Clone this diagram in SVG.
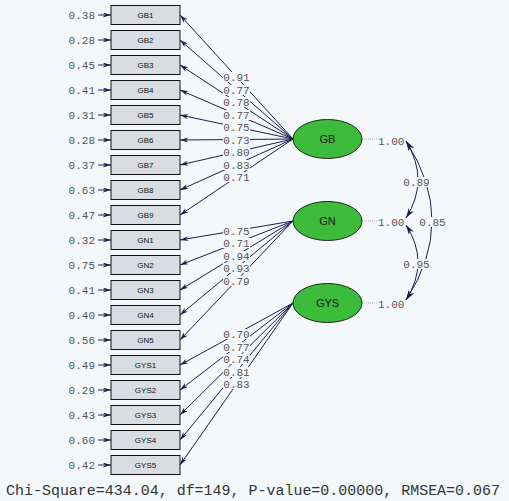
<svg xmlns="http://www.w3.org/2000/svg" width="509" height="501" viewBox="0 0 509 501">
<defs>
<style>
.bg{fill:#f4f8fb}
.box rect{fill:#d9dde2;stroke:#111;stroke-width:1}
.box text{font-family:"Liberation Sans",Arial,sans-serif;font-size:8px;fill:#111;text-anchor:middle}
.num{font-family:"Liberation Mono","Courier New",monospace;font-size:11px;fill:#555}
.lat ellipse{fill:#3dbb3a;stroke:#1a2a1a;stroke-width:1}
.lat text{font-family:"Liberation Sans",Arial,sans-serif;font-size:11px;fill:#1a1a1a;text-anchor:middle}
.ln{stroke:#1c1c50;stroke-width:1;fill:none}
.dot{stroke:#aaaaaa;stroke-width:1;stroke-dasharray:1 1}
.lb{fill:#f4f8fb}
.mid{text-anchor:middle}
</style>
<marker id="ah" viewBox="0 0 10 6" refX="10" refY="3" markerWidth="9" markerHeight="5" markerUnits="userSpaceOnUse" orient="auto">
<path d="M0,0 L10,3 L0,6 L3,3 z" fill="#1c1c50"/>
</marker>
<marker id="ah2" viewBox="0 0 10 6" refX="10" refY="3" markerWidth="10" markerHeight="6" markerUnits="userSpaceOnUse" orient="auto-start-reverse">
<path d="M0,0 L10,3 L0,6 L3,3 z" fill="#1c1c50"/>
</marker>
</defs>
<rect class="bg" x="0" y="0" width="509" height="501"/>

<g id="connectors">
<g id="errors" class="ln" marker-end="url(#ah)">
<line x1="98" y1="15" x2="111" y2="15"/><line x1="98" y1="40" x2="111" y2="40"/><line x1="98" y1="65" x2="111" y2="65"/><line x1="98" y1="90" x2="111" y2="90"/><line x1="98" y1="115" x2="111" y2="115"/><line x1="98" y1="140" x2="111" y2="140"/><line x1="98" y1="165" x2="111" y2="165"/><line x1="98" y1="190" x2="111" y2="190"/><line x1="98" y1="215" x2="111" y2="215"/><line x1="98" y1="240" x2="111" y2="240"/><line x1="98" y1="265" x2="111" y2="265"/><line x1="98" y1="290" x2="111" y2="290"/><line x1="98" y1="315" x2="111" y2="315"/><line x1="98" y1="340" x2="111" y2="340"/><line x1="98" y1="365" x2="111" y2="365"/><line x1="98" y1="390" x2="111" y2="390"/><line x1="98" y1="415" x2="111" y2="415"/><line x1="98" y1="440" x2="111" y2="440"/><line x1="98" y1="465" x2="111" y2="465"/>
</g>
<g id="loadings" class="ln" marker-end="url(#ah)">
<line x1="293" y1="139" x2="180" y2="15"/><line x1="293" y1="139" x2="180" y2="40"/><line x1="293" y1="139" x2="180" y2="65"/><line x1="293" y1="139" x2="180" y2="90"/><line x1="293" y1="139" x2="180" y2="115"/><line x1="293" y1="139" x2="180" y2="140"/><line x1="293" y1="139" x2="180" y2="165"/><line x1="293" y1="139" x2="180" y2="190"/><line x1="293" y1="139" x2="180" y2="215"/>
<line x1="293" y1="221" x2="180" y2="240"/><line x1="293" y1="221" x2="180" y2="265"/><line x1="293" y1="221" x2="180" y2="290"/><line x1="293" y1="221" x2="180" y2="315"/><line x1="293" y1="221" x2="180" y2="340"/>
<line x1="293" y1="303" x2="180" y2="365"/><line x1="293" y1="303" x2="180" y2="390"/><line x1="293" y1="303" x2="180" y2="415"/><line x1="293" y1="303" x2="180" y2="440"/><line x1="293" y1="303" x2="180" y2="465"/>
</g>
<g id="variances" class="dot">
<line x1="362" y1="139" x2="377" y2="139"/><line x1="362" y1="221" x2="377" y2="221"/><line x1="362" y1="303" x2="377" y2="303"/>
</g>
<g id="covariances" class="ln" marker-start="url(#ah2)" marker-end="url(#ah2)">
<path d="M406,141 Q430,180 406,218"/>
<path d="M406,225 Q430,262 406,300"/>
<path d="M406,141 Q458,221 406,300"/>
</g>
<g id="loading-labels" class="num">
<rect class="lb" x="223" y="72" width="27" height="10"/><text x="236.5" y="81" class="mid">0.91</text>
<rect class="lb" x="223" y="85" width="27" height="10"/><text x="236.5" y="93.5" class="mid">0.77</text>
<rect class="lb" x="223" y="97" width="27" height="10"/><text x="236.5" y="106" class="mid">0.78</text>
<rect class="lb" x="223" y="110" width="27" height="10"/><text x="236.5" y="118.5" class="mid">0.77</text>
<rect class="lb" x="223" y="122" width="27" height="10"/><text x="236.5" y="131" class="mid">0.75</text>
<rect class="lb" x="223" y="135" width="27" height="10"/><text x="236.5" y="143.5" class="mid">0.73</text>
<rect class="lb" x="223" y="147" width="27" height="10"/><text x="236.5" y="156" class="mid">0.80</text>
<rect class="lb" x="223" y="160" width="27" height="10"/><text x="236.5" y="168.5" class="mid">0.83</text>
<rect class="lb" x="223" y="172" width="27" height="10"/><text x="236.5" y="181" class="mid">0.71</text>
<rect class="lb" x="223" y="226" width="27" height="10"/><text x="236.5" y="235" class="mid">0.75</text>
<rect class="lb" x="223" y="238" width="27" height="10"/><text x="236.5" y="247" class="mid">0.71</text>
<rect class="lb" x="223" y="251" width="27" height="10"/><text x="236.5" y="259.5" class="mid">0.94</text>
<rect class="lb" x="223" y="263" width="27" height="10"/><text x="236.5" y="272" class="mid">0.93</text>
<rect class="lb" x="223" y="276" width="27" height="10"/><text x="236.5" y="284.5" class="mid">0.79</text>
<rect class="lb" x="223" y="329" width="27" height="10"/><text x="236.5" y="338" class="mid">0.70</text>
<rect class="lb" x="223" y="342" width="27" height="10"/><text x="236.5" y="350.5" class="mid">0.77</text>
<rect class="lb" x="223" y="354" width="27" height="10"/><text x="236.5" y="363" class="mid">0.74</text>
<rect class="lb" x="223" y="367" width="27" height="10"/><text x="236.5" y="375.5" class="mid">0.81</text>
<rect class="lb" x="223" y="379" width="27" height="10"/><text x="236.5" y="388" class="mid">0.83</text>
</g>
<g id="cov-labels" class="num">
<rect class="lb" x="403" y="177" width="27" height="10"/><text x="416.5" y="186" class="mid">0.89</text>
<rect class="lb" x="403" y="259" width="27" height="10"/><text x="416.5" y="268" class="mid">0.95</text>
<rect class="lb" x="419" y="217" width="27" height="10"/><text x="432.5" y="226" class="mid">0.85</text>
</g>
</g>

<g id="error-values" class="num" text-anchor="end">
<text x="95" y="19">0.38</text><text x="95" y="44">0.28</text><text x="95" y="69">0.45</text><text x="95" y="94">0.41</text><text x="95" y="119">0.31</text><text x="95" y="144">0.28</text><text x="95" y="169">0.37</text><text x="95" y="194">0.63</text><text x="95" y="219">0.47</text><text x="95" y="244">0.32</text><text x="95" y="269">0.75</text><text x="95" y="294">0.41</text><text x="95" y="319">0.40</text><text x="95" y="344">0.56</text><text x="95" y="369">0.49</text><text x="95" y="394">0.29</text><text x="95" y="419">0.43</text><text x="95" y="444">0.60</text><text x="95" y="469">0.42</text>
</g>

<g id="GB1" class="box"><rect x="111" y="5.5" width="69" height="19"/><text x="145.5" y="18">GB1</text></g>
<g id="GB2" class="box"><rect x="111" y="30.5" width="69" height="19"/><text x="145.5" y="43">GB2</text></g>
<g id="GB3" class="box"><rect x="111" y="55.5" width="69" height="19"/><text x="145.5" y="68">GB3</text></g>
<g id="GB4" class="box"><rect x="111" y="80.5" width="69" height="19"/><text x="145.5" y="93">GB4</text></g>
<g id="GB5" class="box"><rect x="111" y="105.5" width="69" height="19"/><text x="145.5" y="118">GB5</text></g>
<g id="GB6" class="box"><rect x="111" y="130.5" width="69" height="19"/><text x="145.5" y="143">GB6</text></g>
<g id="GB7" class="box"><rect x="111" y="155.5" width="69" height="19"/><text x="145.5" y="168">GB7</text></g>
<g id="GB8" class="box"><rect x="111" y="180.5" width="69" height="19"/><text x="145.5" y="193">GB8</text></g>
<g id="GB9" class="box"><rect x="111" y="205.5" width="69" height="19"/><text x="145.5" y="218">GB9</text></g>
<g id="GN1" class="box"><rect x="111" y="230.5" width="69" height="19"/><text x="145.5" y="243">GN1</text></g>
<g id="GN2" class="box"><rect x="111" y="255.5" width="69" height="19"/><text x="145.5" y="268">GN2</text></g>
<g id="GN3" class="box"><rect x="111" y="280.5" width="69" height="19"/><text x="145.5" y="293">GN3</text></g>
<g id="GN4" class="box"><rect x="111" y="305.5" width="69" height="19"/><text x="145.5" y="318">GN4</text></g>
<g id="GN5" class="box"><rect x="111" y="330.5" width="69" height="19"/><text x="145.5" y="343">GN5</text></g>
<g id="GYS1" class="box"><rect x="111" y="355.5" width="69" height="19"/><text x="145.5" y="368">GYS1</text></g>
<g id="GYS2" class="box"><rect x="111" y="380.5" width="69" height="19"/><text x="145.5" y="393">GYS2</text></g>
<g id="GYS3" class="box"><rect x="111" y="405.5" width="69" height="19"/><text x="145.5" y="418">GYS3</text></g>
<g id="GYS4" class="box"><rect x="111" y="430.5" width="69" height="19"/><text x="145.5" y="443">GYS4</text></g>
<g id="GYS5" class="box"><rect x="111" y="455.5" width="69" height="19"/><text x="145.5" y="468">GYS5</text></g>

<g id="GB" class="lat"><ellipse cx="327.5" cy="139" rx="34.5" ry="19.5"/><text x="327.5" y="143">GB</text></g>
<g id="GN" class="lat"><ellipse cx="327.5" cy="221" rx="34.5" ry="19.5"/><text x="327.5" y="225">GN</text></g>
<g id="GYS" class="lat"><ellipse cx="327.5" cy="303" rx="34.5" ry="19.5"/><text x="327.5" y="307">GYS</text></g>

<g id="variance-values" class="num">
<text x="378" y="145">1.00</text><text x="378" y="226">1.00</text><text x="378" y="308">1.00</text>
</g>

<text x="6" y="495" font-family="'Liberation Mono','Courier New',monospace" font-size="15" fill="#333" textLength="494" lengthAdjust="spacingAndGlyphs">Chi-Square=434.04, df=149, P-value=0.00000, RMSEA=0.067</text>
</svg>
